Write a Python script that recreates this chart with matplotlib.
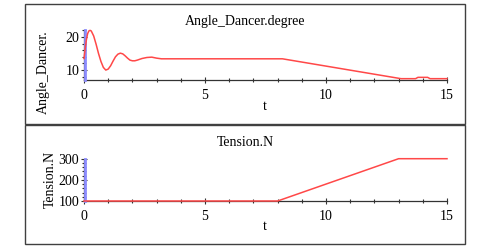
import matplotlib
matplotlib.use("Agg")
import matplotlib.pyplot as plt
from matplotlib.patches import Rectangle
from matplotlib.ticker import MultipleLocator

# Data
angle_t = [0, 0.05, 0.1, 0.15, 0.2, 0.25, 0.3, 0.4, 0.5, 0.6, 0.7, 0.8, 0.9, 1.0,
           1.1, 1.2, 1.3, 1.4, 1.5, 1.6, 1.7, 1.8, 1.9, 2.0, 2.1, 2.2, 2.4, 2.6,
           2.8, 3.0, 3.2, 8.2, 13.1, 13.7, 13.8, 14.2, 14.3, 15.0]
angle_v = [13.5, 16.5, 19.2, 21.0, 21.8, 22.0, 21.8, 20.3, 17.8, 15.0, 12.6, 10.8,
           10.0, 10.3, 11.3, 12.7, 14.0, 14.8, 15.1, 14.9, 14.3, 13.6, 13.0, 12.8,
           12.8, 13.0, 13.5, 13.8, 13.9, 13.6, 13.4, 13.4, 7.4, 7.4, 7.8, 7.8, 7.4, 7.4]
tension_t = [0, 8.0, 13.0, 15.0]
tension_v = [100, 100, 300, 300]

angle_title = "Angle_Dancer.degree"
angle_ylabel = "Angle_Dancer."
tension_title = "Tension.N"
tension_ylabel = "Tension.N"
xlabel = "t"

plt.rcParams['font.family'] = ['Liberation Serif', 'DejaVu Serif']
FS = 10
RED = '#ff4848'
BLUE = '#8c8cff'

fig = plt.figure(figsize=(5, 2.5), dpi=100)

# panel boxes
for (y0, y1) in [(1 - 124/250, 1 - 4/250), (1 - 244/250, 1 - 125/250)]:
    fig.patches.append(Rectangle((0.05, y0), 0.88, y1 - y0, transform=fig.transFigure,
                                 fill=False, edgecolor='#404040', lw=1.0))

def style(ax, ymaj, ymin):
    for s in ['top', 'right']:
        ax.spines[s].set_visible(False)
    for s in ['left', 'bottom']:
        ax.spines[s].set_color('#333333')
        ax.spines[s].set_linewidth(0.9)
    ax.set_xlim(0, 15)
    ax.xaxis.set_major_locator(MultipleLocator(5))
    ax.xaxis.set_minor_locator(MultipleLocator(1))
    ax.yaxis.set_major_locator(MultipleLocator(ymaj))
    ax.yaxis.set_minor_locator(MultipleLocator(ymin))
    ax.tick_params(which='major', direction='inout', length=5, width=0.8,
                   labelsize=FS, pad=4, color='#333333')
    ax.tick_params(which='minor', direction='inout', length=3, width=0.8, color='#333333')
    ax.tick_params(axis='y', which='major', pad=1)
    ax.patch.set_alpha(0)

# top axes
ax1 = fig.add_axes([84/500, 1 - 80/250, 363/500, 50/250])
ax1.plot([0.03, 0.03], [7.0, 22.1], color=BLUE, lw=2, zorder=4, clip_on=False)
ax1.plot(angle_t, angle_v, color=RED, lw=1.1, clip_on=False, zorder=5)
ax1.set_ylim(7.0, 22.1)
style(ax1, 10, 2)
ax1.set_yticks([10, 20])

fig.text(0.49, 1 - 22/250, angle_title, ha='center', va='center', fontsize=FS)
fig.text(0.53, 1 - 107/250, xlabel, ha='center', va='center', fontsize=FS)
fig.text(43/500, 1 - 72/250, angle_ylabel, ha='center', va='center', rotation=90, fontsize=FS)

# bottom axes
ax2 = fig.add_axes([84/500, 1 - 201/250, 363/500, 42.3/250])
ax2.plot([0.03, 0.03], [100, 300], color=BLUE, lw=2, zorder=4, clip_on=False)
ax2.plot(tension_t, tension_v, color=RED, lw=1.1, clip_on=False, zorder=5)
ax2.set_ylim(100, 300)
style(ax2, 100, 20)

fig.text(0.49, 1 - 142/250, tension_title, ha='center', va='center', fontsize=FS)
fig.text(0.53, 1 - 227/250, xlabel, ha='center', va='center', fontsize=FS)
fig.text(50/500, 1 - 179/250, tension_ylabel, ha='center', va='center', rotation=90, fontsize=FS)

fig.savefig('out.png', dpi=100)
